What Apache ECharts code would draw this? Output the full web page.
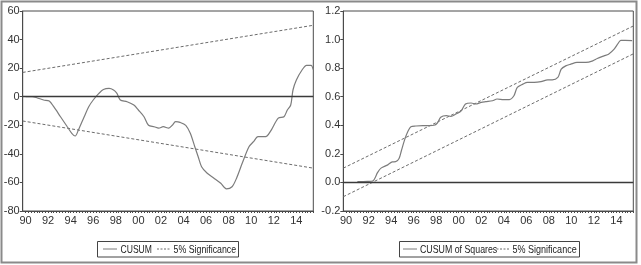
<!DOCTYPE html>
<html>
<head>
<meta charset="utf-8">
<script src="https://cdn.jsdelivr.net/npm/echarts@6/dist/echarts.min.js"></script>
<style>
  html, body { margin: 0; padding: 0; background: #fff; }
  #chart { width: 641px; height: 265px; }
</style>
</head>
<body>
<div id="chart"></div>
<script>
// x positions are decimal years (1990.0 = 1990Q1)
const yearLabels = [1990, 1992, 1994, 1996, 1998, 2000, 2002, 2004, 2006, 2008, 2010, 2012, 2014];

// CUSUM (left panel)
const cusumYears = [1990.0, 1990.6, 1991.0, 1991.6, 1992.1, 1992.5, 1993.1, 1993.7, 1994.1, 1994.4,
  1994.7, 1995.2, 1995.6, 1996.0, 1996.5, 1996.9, 1997.4, 1997.8, 1998.1, 1998.4,
  1999.0, 1999.6, 2000.0, 2000.5, 2000.9, 2001.4, 2001.8, 2002.2, 2002.7, 2003.0,
  2003.3, 2003.7, 2004.2, 2004.6, 2005.0, 2005.3, 2005.6, 2006.1, 2006.7, 2007.3,
  2007.8, 2008.3, 2008.7, 2009.2, 2009.8, 2010.2, 2010.6, 2011.1, 2011.4, 2011.8,
  2012.4, 2012.9, 2013.2, 2013.5, 2013.7, 2014.0, 2014.5, 2014.9, 2015.3, 2015.5];
const cusumValues = [0, 0, -0.7, -2.3, -3, -7, -14, -21, -25.6, -27.5,
  -23, -14, -7, -2.3, 2.3, 5, 5.8, 4.7, 2.3, -2.3,
  -3.5, -5.8, -9.3, -14, -20, -21, -22, -21, -22, -20,
  -17.5, -18, -20, -25.6, -35, -42, -49, -53.6, -57, -60.6,
  -64.5, -63, -57, -46.6, -35, -31.5, -28, -28, -27.5, -23,
  -15, -14, -9.3, -5.8, 4.7, 11.7, 18.7, 22, 22, 19];

// CUSUM of Squares (right panel)
const cusumSqYears = [1991.0, 1991.9, 1992.36, 1992.8, 1993.1, 1993.7, 1994.1, 1994.4, 1994.7, 1994.9,
  1995.2, 1995.5, 1995.75, 1996.2, 1996.8, 1997.4, 1997.8, 1998.1, 1998.4, 1998.9,
  1999.3, 1999.75, 2000.2, 2000.6, 2001.1, 2001.5, 2002.0, 2002.4, 2003.0, 2003.4,
  2004.0, 2004.5, 2004.9, 2005.2, 2005.7, 2006.1, 2006.7, 2007.3, 2007.9, 2008.3,
  2008.8, 2009.1, 2009.5, 2009.95, 2010.5, 2011.3, 2011.9, 2012.3, 2012.9, 2013.3,
  2013.8, 2014.2, 2014.4, 2014.8, 2015.4];
const cusumSqValues = [0.005, 0.007, 0.01, 0.07, 0.1, 0.123, 0.144, 0.145, 0.168, 0.22,
  0.30, 0.36, 0.39, 0.395, 0.398, 0.398, 0.40, 0.416, 0.456, 0.467,
  0.463, 0.479, 0.50, 0.549, 0.556, 0.549, 0.56, 0.565, 0.572, 0.584,
  0.58, 0.58, 0.607, 0.665, 0.688, 0.70, 0.70, 0.705, 0.718, 0.718,
  0.735, 0.793, 0.816, 0.828, 0.84, 0.84, 0.851, 0.867, 0.886, 0.898,
  0.933, 0.979, 0.995, 0.995, 0.993];

// 5% significance bounds (start / end of sample)
const boundYears = [1989.75, 2015.5];
const cusumUpper = [17, 50];
const cusumLower = [-17, -50];
const sqUpper = [0.1, 1.095];
const sqLower = [-0.1, 0.9];

const FONT = '"Liberation Sans", Arial, sans-serif';
const AXIS_COLOR = '#4a4a4a';
const TEXT_COLOR = '#333';
const LINE_COLOR = '#7c7c7c';
const DASH_COLOR = '#6c6c6c';

const pair = (xs, ys) => xs.map((x, i) => [x, ys[i]]);

// quarterly minor ticks along the bottom axis
const quarterTicks = [];
for (let q = 1990; q <= 2015.5; q += 0.25) quarterTicks.push(q);

function xAxisFor(gridIndex) {
  return {
    type: 'value',
    gridIndex: gridIndex,
    min: 1989.75,
    max: 2015.5,
    axisLine: { onZero: false, lineStyle: { color: AXIS_COLOR } },
    axisTick: { show: true, length: 2, customValues: quarterTicks, lineStyle: { color: AXIS_COLOR } },
    axisLabel: {
      customValues: yearLabels,
      color: TEXT_COLOR, fontFamily: FONT, fontSize: 11, margin: 4,
      formatter: (v) => String(Math.round(v) % 100).padStart(2, '0'),
    },
    splitLine: { show: false },
  };
}

function yAxisFor(gridIndex, min, max, interval, digits) {
  return {
    type: 'value',
    gridIndex: gridIndex,
    min: min,
    max: max,
    interval: interval,
    axisLine: { show: true, onZero: false, lineStyle: { color: AXIS_COLOR } },
    axisTick: { show: true, length: 3, lineStyle: { color: AXIS_COLOR } },
    axisLabel: {
      color: TEXT_COLOR, fontFamily: FONT, fontSize: 11, margin: 3,
      formatter: (v) => v.toFixed(digits),
    },
    splitLine: { show: false },
  };
}

const zeroLine = {
  silent: true,
  symbol: 'none',
  label: { show: false },
  lineStyle: { color: '#3a3a3a', type: 'solid', width: 1.3 },
  data: [{ yAxis: 0 }],
};

function mainLine(name, idx, xs, ys) {
  return {
    name: name,
    type: 'line',
    xAxisIndex: idx,
    yAxisIndex: idx,
    data: pair(xs, ys),
    showSymbol: false,
    symbol: 'none',
    smooth: 0.3,
    lineStyle: { color: LINE_COLOR, width: 1.2 },
    itemStyle: { color: LINE_COLOR },
    markLine: zeroLine,
    z: 3,
  };
}

function boundLine(idx, ys) {
  return {
    name: '5% Significance',
    type: 'line',
    xAxisIndex: idx,
    yAxisIndex: idx,
    data: pair(boundYears, ys),
    showSymbol: false,
    symbol: 'none',
    lineStyle: { color: DASH_COLOR, width: 1, type: [3, 2] },
    itemStyle: { color: DASH_COLOR },
    z: 2,
  };
}

// EViews-style boxed legend, drawn with narrow (horizontally squeezed) text
function legendBox(x, w, items) {
  const y = 241.5, h = 15.5, mid = 249;
  const children = [{
    type: 'rect',
    shape: { x: x, y: y, width: w, height: h },
    style: { fill: '#fff', stroke: '#444', lineWidth: 1 },
  }];
  items.forEach((it) => {
    children.push({
      type: 'line',
      shape: { x1: it.lx, y1: mid, x2: it.lx + 14, y2: mid },
      style: { stroke: it.dashed ? DASH_COLOR : LINE_COLOR, lineWidth: 1, lineDash: it.dashed ? [2, 1.5] : null },
    });
    children.push({
      type: 'text',
      x: it.tx, y: mid + 0.5,
      scaleX: it.sx,
      style: { text: it.text, fill: '#222', font: '11px ' + FONT, verticalAlign: 'middle', align: 'left' },
    });
  });
  return { type: 'group', silent: true, children: children };
}

const chart = echarts.init(document.getElementById('chart'), null, { renderer: 'canvas' });
chart.setOption({
  animation: false,
  backgroundColor: '#fff',
  graphic: [
    {
      type: 'rect',
      shape: { x: 1.5, y: 1.5, width: 635, height: 261 },
      style: { fill: 'none', stroke: '#8a8a8a', lineWidth: 2 },
      silent: true,
    },
    legendBox(97.5, 141, [
      { lx: 103, tx: 120.5, text: 'CUSUM', sx: 0.78 },
      { lx: 157, tx: 173.5, text: '5% Significance', sx: 0.8, dashed: true },
    ]),
    legendBox(399.5, 180, [
      { lx: 403, tx: 420, text: 'CUSUM of Squares', sx: 0.8 },
      { lx: 496.5, tx: 512.5, text: '5% Significance', sx: 0.82, dashed: true },
    ]),
  ],
  grid: [
    { left: 22.7, top: 11, width: 290.6, height: 200, show: true, borderColor: AXIS_COLOR, borderWidth: 1, backgroundColor: 'transparent' },
    { left: 343.3, top: 11, width: 290, height: 200, show: true, borderColor: AXIS_COLOR, borderWidth: 1, backgroundColor: 'transparent' },
  ],
  xAxis: [xAxisFor(0), xAxisFor(1)],
  yAxis: [yAxisFor(0, -80, 60, 20, 0), yAxisFor(1, -0.2, 1.2, 0.2, 1)],
  series: [
    mainLine('CUSUM', 0, cusumYears, cusumValues),
    boundLine(0, cusumUpper),
    boundLine(0, cusumLower),
    mainLine('CUSUM of Squares', 1, cusumSqYears, cusumSqValues),
    boundLine(1, sqUpper),
    boundLine(1, sqLower),
  ],
});
</script>
</body>
</html>
